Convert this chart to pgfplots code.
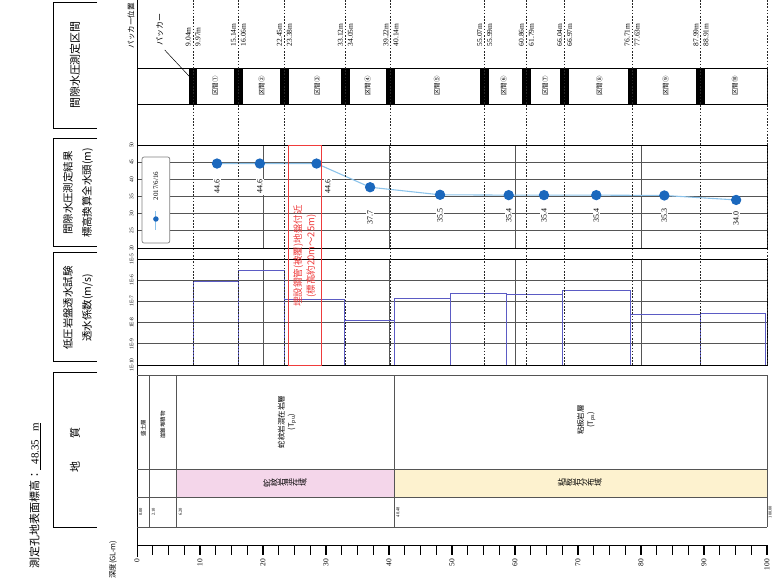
\documentclass[border=0pt]{standalone}
\usepackage{fontspec}
\setmainfont{Liberation Serif}
\newfontfamily\jp{Noto Sans CJK JP}
\usepackage{graphicx}
\usepackage{pgfplots}
\pgfplotsset{compat=1.18}
\definecolor{headline}{HTML}{8CC3EA}
\definecolor{headmark}{HTML}{1B68BD}
\definecolor{permc}{HTML}{5B5BC4}
\definecolor{redc}{HTML}{EE3B3B}
\definecolor{pinkb}{HTML}{F4D6EA}
\definecolor{yellowb}{HTML}{FDF2CF}
\definecolor{gridc}{HTML}{555555}
\newcommand\vc[1]{\rotatebox{90}{#1}}
\tikzset{dotline/.style={black!85, line width=0.8pt, dash pattern=on 1.6pt off 1.6pt}}
\begin{document}
\begin{tikzpicture}
\path[use as bounding box] (0,0) rectangle (774bp,-583bp);
% ---- left header boxes
\draw[line width=0.8pt] (97bp,-2bp) -- (53bp,-2bp) -- (53bp,-128bp) -- (97bp,-128bp);
\draw[line width=0.8pt] (97bp,-138bp) -- (53bp,-138bp) -- (53bp,-246bp) -- (97bp,-246bp);
\draw[line width=0.8pt] (97bp,-252bp) -- (53bp,-252bp) -- (53bp,-361bp) -- (97bp,-361bp);
\draw[line width=0.8pt] (97bp,-372bp) -- (53bp,-372bp) -- (53bp,-527bp) -- (97bp,-527bp);
\node[rotate=90, font=\jp\fontsize{11}{13}\selectfont] at (75bp,-65bp) {間隙水圧測定区間};
\node[rotate=90, align=center, font=\jp\fontsize{10.5}{19}\selectfont] at (78bp,-193bp) {間隙水圧測定結果\\標高換算全水頭(m)};
\node[rotate=90, align=center, font=\jp\fontsize{10.5}{19}\selectfont] at (78bp,-308bp) {低圧岩盤透水試験\\透水係数(m/s)};
\node[rotate=90, font=\jp\fontsize{11}{13}\selectfont] at (75bp,-450bp) {地\hspace{24bp}質};
\node[rotate=90, anchor=west, font=\fontsize{11}{13}\selectfont] at (35bp,-572bp) {{\jp 測定孔地表面標高：}\underline{\ \ 48.35\ \ \ m}};

% ---- head panel
\begin{axis}[at={(137bp,-145bp)}, anchor=north west, scale only axis,
  width=630bp, height=103bp, xmin=0, xmax=100, ymin=20, ymax=50,
  ytick={20,25,...,50}, xtick={20,40,60,80}, xticklabels={},
  major tick length=0pt, ymajorgrids, xmajorgrids,
  grid style={gridc, line width=0.7pt}, axis line style={line width=0.9pt},
  /pgf/number format/assume math mode=true,
  yticklabel style={rotate=90, anchor=south, font=\fontsize{5.5}{6}\selectfont},
  clip=false]
\addplot[headline, line width=1.1pt, mark=*, mark size=4.6pt,
  mark options={draw=headmark, fill=headmark}] coordinates {
  (12.7,44.6) (19.5,44.6) (28.5,44.6) (37.0,37.7) (48.1,35.5)
  (59.0,35.4) (64.6,35.4) (72.9,35.4) (83.7,35.3) (95.1,34.0)};
\tikzset{vl/.style={rotate=90, fill=white, inner sep=1pt, font=\fontsize{8}{9}\selectfont}}
\node[vl] at (axis cs:12.7,37.8) {44.6};
\node[vl] at (axis cs:19.5,37.8) {44.6};
\node[vl] at (axis cs:30.3,37.8) {44.6};
\node[vl] at (axis cs:37.0,29.0) {37.7};
\node[vl] at (axis cs:48.1,29.6) {35.5};
\node[vl] at (axis cs:59.0,29.6) {35.4};
\node[vl] at (axis cs:64.6,29.6) {35.4};
\node[vl] at (axis cs:72.9,29.6) {35.4};
\node[vl] at (axis cs:83.7,29.6) {35.3};
\node[vl] at (axis cs:95.1,28.7) {34.0};
\end{axis}

% ---- permeability panel
\begin{axis}[at={(137bp,-259bp)}, anchor=north west, scale only axis,
  width=630bp, height=106bp, xmin=0, xmax=100, ymode=log, ymin=1e-10, ymax=1e-5,
  ytick={1e-10,1e-9,1e-8,1e-7,1e-6,1e-5},
  yticklabels={1E-10,1E-9,1E-8,1E-7,1E-6,1E-5},
  xtick={20,40,60,80}, xticklabels={},
  major tick length=0pt, minor tick length=0pt, ymajorgrids, xmajorgrids,
  grid style={gridc, line width=0.7pt}, axis line style={line width=0.9pt},
  yticklabel style={rotate=90, anchor=south, font=\fontsize{5.5}{6}\selectfont},
  clip=false]
\tikzset{st/.style={permc, line width=0.9pt}}
\addplot[st] coordinates {(8.9,1e-10) (8.9,8.9e-7) (16.1,8.9e-7) (16.1,1e-10)};
\addplot[st] coordinates {(16.1,1e-10) (16.1,3.0e-6) (23.4,3.0e-6) (23.4,1e-10)};
\addplot[st] coordinates {(23.4,1e-10) (23.4,1.26e-7) (33.0,1.26e-7) (33.0,1e-10)};
\addplot[st] coordinates {(33.0,1e-10) (33.0,1.26e-8) (40.8,1.26e-8) (40.8,1e-10)};
\addplot[st] coordinates {(40.8,1e-10) (40.8,1.38e-7) (49.7,1.38e-7) (49.7,1e-10)};
\addplot[st] coordinates {(49.7,1e-10) (49.7,2.4e-7) (58.6,2.4e-7) (58.6,1e-10)};
\addplot[st] coordinates {(58.6,1e-10) (58.6,2.14e-7) (67.6,2.14e-7) (67.6,1e-10)};
\addplot[st] coordinates {(67.6,1e-10) (67.6,3.3e-7) (78.4,3.3e-7) (78.4,1e-10)};
\addplot[st] coordinates {(78.4,1e-10) (78.4,2.4e-8) (89.4,2.4e-8) (89.4,1e-10)};
\addplot[st] coordinates {(89.4,1e-10) (89.4,2.7e-8) (99.8,2.7e-8) (99.8,1e-10)};
\end{axis}

% ---- foreground: sections, red box, geology, depth scale
\begin{axis}[at={(137bp,0bp)}, anchor=north west, scale only axis,
  width=630bp, height=583bp, xmin=0, xmax=100, ymin=0, ymax=583,
  y dir=reverse, hide axis, clip=false]
% section band
\addplot[draw=black, line width=0.9pt, fill=white] coordinates {(0,68) (100,68) (100,104) (0,104)} -- cycle;
% packer blocks
\addplot[fill=black, draw=none] coordinates {(8.2,68) (9.6,68) (9.6,104) (8.2,104)} -- cycle;
\addplot[fill=black, draw=none] coordinates {(15.4,68) (16.8,68) (16.8,104) (15.4,104)} -- cycle;
\addplot[fill=black, draw=none] coordinates {(22.7,68) (24.1,68) (24.1,104) (22.7,104)} -- cycle;
\addplot[fill=black, draw=none] coordinates {(32.4,68) (33.8,68) (33.8,104) (32.4,104)} -- cycle;
\addplot[fill=black, draw=none] coordinates {(39.6,68) (41.0,68) (41.0,104) (39.6,104)} -- cycle;
\addplot[fill=black, draw=none] coordinates {(54.5,68) (55.9,68) (55.9,104) (54.5,104)} -- cycle;
\addplot[fill=black, draw=none] coordinates {(61.1,68) (62.5,68) (62.5,104) (61.1,104)} -- cycle;
\addplot[fill=black, draw=none] coordinates {(67.2,68) (68.6,68) (68.6,104) (67.2,104)} -- cycle;
\addplot[fill=black, draw=none] coordinates {(77.9,68) (79.3,68) (79.3,104) (77.9,104)} -- cycle;
\addplot[fill=black, draw=none] coordinates {(88.8,68) (90.2,68) (90.2,104) (88.8,104)} -- cycle;
% dotted packer lines
\pgfplotsinvokeforeach{8.9,16.1,23.4,33.1,40.3,55.2,61.8,67.9,78.6,89.5,100}{
  \addplot[dotline] coordinates {(#1,0) (#1,365)};}
% axis line at depth 0
\draw[line width=0.9pt] (axis cs:0,0) -- (axis cs:0,557);
% section labels
\tikzset{sl/.style={rotate=90, font=\jp\fontsize{6.5}{7}\selectfont}}
\node[sl] at (axis cs:12.4,86) {区間①};
\node[sl] at (axis cs:19.8,86) {区間②};
\node[sl] at (axis cs:28.6,86) {区間③};
\node[sl] at (axis cs:36.6,86) {区間④};
\node[sl] at (axis cs:47.6,86) {区間⑤};
\node[sl] at (axis cs:58.2,86) {区間⑥};
\node[sl] at (axis cs:64.8,86) {区間⑦};
\node[sl] at (axis cs:73.4,86) {区間⑧};
\node[sl] at (axis cs:83.9,86) {区間⑨};
\node[sl] at (axis cs:94.9,86) {区間⑩};
% packer depth labels
\tikzset{pl/.style={rotate=90, anchor=west, align=left, inner sep=0.5pt, font=\fontsize{7.5}{10}\selectfont}}
\node[pl] at (axis cs:8.9,47) {9.04m\\9.97m};
\node[pl] at (axis cs:16.1,47) {15.14m\\16.06m};
\node[pl] at (axis cs:23.4,47) {22.45m\\23.38m};
\node[pl] at (axis cs:33.1,47) {33.12m\\34.05m};
\node[pl] at (axis cs:40.3,47) {39.22m\\40.14m};
\node[pl] at (axis cs:55.2,47) {55.07m\\55.99m};
\node[pl] at (axis cs:61.8,47) {60.86m\\61.79m};
\node[pl] at (axis cs:67.9,47) {66.04m\\66.97m};
\node[pl] at (axis cs:78.6,47) {76.71m\\77.63m};
\node[pl] at (axis cs:89.5,47) {87.99m\\88.91m};
\node[rotate=90, anchor=south east, inner sep=1pt, font=\jp\fontsize{7.5}{8}\selectfont] at (axis cs:-0.2,2) {パッカー位置};
\node[rotate=90, anchor=west, inner sep=1pt, font=\jp\fontsize{8}{9}\selectfont] at (axis cs:3.6,47) {パッカー};
\draw[line width=0.5pt] (axis cs:4.4,50) -- (axis cs:8.4,77);
% legend
\draw[gray, line width=0.7pt, rounded corners=2pt, fill=white] (axis cs:0.8,157) rectangle (axis cs:5.2,243);
\addplot[headline, line width=1pt, mark=*, mark size=2.2pt, mark indices={2},
  mark options={draw=headmark, fill=headmark}] coordinates {(3.0,211) (3.0,219) (3.0,230)};
\node[rotate=90, font=\fontsize{7}{8}\selectfont] at (axis cs:3.0,186) {2017/6/16};
% red box
\draw[redc, line width=0.9pt] (axis cs:24.1,145) rectangle (axis cs:29.2,365);
\node[rotate=90, align=center, text=redc, font=\jp\fontsize{9.5}{13}\selectfont] at (axis cs:26.65,256) {埋設鋼管(被覆)地盤付近\\(標高約20m～25m)};
% geology
\addplot[fill=pinkb, draw=none] coordinates {(6.3,469) (40.8,469) (40.8,497) (6.3,497)} -- cycle;
\addplot[fill=yellowb, draw=none] coordinates {(40.8,469) (100,469) (100,497) (40.8,497)} -- cycle;
\draw[gridc, line width=0.8pt] (axis cs:0,375) -- (axis cs:100,375);
\draw[gridc, line width=0.8pt] (axis cs:0,469) -- (axis cs:100,469);
\draw[gridc, line width=0.8pt] (axis cs:0,497) -- (axis cs:100,497);
\draw[gridc, line width=0.8pt] (axis cs:0,527) -- (axis cs:100,527);
\draw[gridc, line width=0.8pt] (axis cs:2.0,375) -- (axis cs:2.0,527);
\draw[gridc, line width=0.8pt] (axis cs:6.3,375) -- (axis cs:6.3,527);
\draw[gridc, line width=0.8pt] (axis cs:40.8,375) -- (axis cs:40.8,527);
\draw[gridc, line width=0.8pt] (axis cs:100,375) -- (axis cs:100,527);
\node[rotate=90, font=\jp\fontsize{5.5}{6}\selectfont] at (axis cs:1.0,428) {盛土層};
\node[rotate=90, font=\jp\fontsize{5.5}{6}\selectfont] at (axis cs:4.1,425) {崖錐堆積物};
\node[rotate=90, align=center, font=\jp\fontsize{7.5}{10}\selectfont] at (axis cs:23.8,422) {蛇紋岩混在岩層\\(T\textsubscript{pu})};
\node[rotate=90, align=center, font=\jp\fontsize{7.5}{10}\selectfont] at (axis cs:71.3,420) {粘板岩層\\(T\textsubscript{ps})};
\node[font=\jp\fontsize{8}{9}\selectfont] at (axis cs:23.5,483) {\vc{蛇}\vc{紋}\vc{岩}\vc{混}\vc{在}\vc{域}};
\node[font=\jp\fontsize{8}{9}\selectfont] at (axis cs:70.3,483) {\vc{粘}\vc{板}\vc{岩}\vc{分}\vc{布}\vc{域}};
\tikzset{gn/.style={rotate=90, inner sep=0.5pt, font=\fontsize{4.5}{5}\selectfont}}
\node[gn] at (axis cs:0.6,512) {0.00};
\node[gn] at (axis cs:2.6,512) {2.10};
\node[gn] at (axis cs:6.9,512) {6.20};
\node[gn] at (axis cs:41.4,512) {40.48};
\node[gn] at (axis cs:100.5,512) {100.00};
% depth scale
\draw[line width=0.9pt] (axis cs:0,545) -- (axis cs:100,545);
\pgfplotsinvokeforeach{2.5,5,...,100}{\draw[line width=0.6pt] (axis cs:#1,545) -- (axis cs:#1,555);}
\pgfplotsinvokeforeach{10,20,...,100}{\draw[line width=1.1pt] (axis cs:#1,545) -- (axis cs:#1,555);}
\pgfplotsinvokeforeach{0,10,...,100}{\node[rotate=90, anchor=east, inner sep=1pt, font=\fontsize{7.5}{8}\selectfont] at (axis cs:#1,558) {#1};}
\node[rotate=90, anchor=west, inner sep=1pt, font=\jp\fontsize{7.5}{8}\selectfont] at (axis cs:-3.8,580) {深度(GL-m)};
\end{axis}
\end{tikzpicture}
\end{document}
